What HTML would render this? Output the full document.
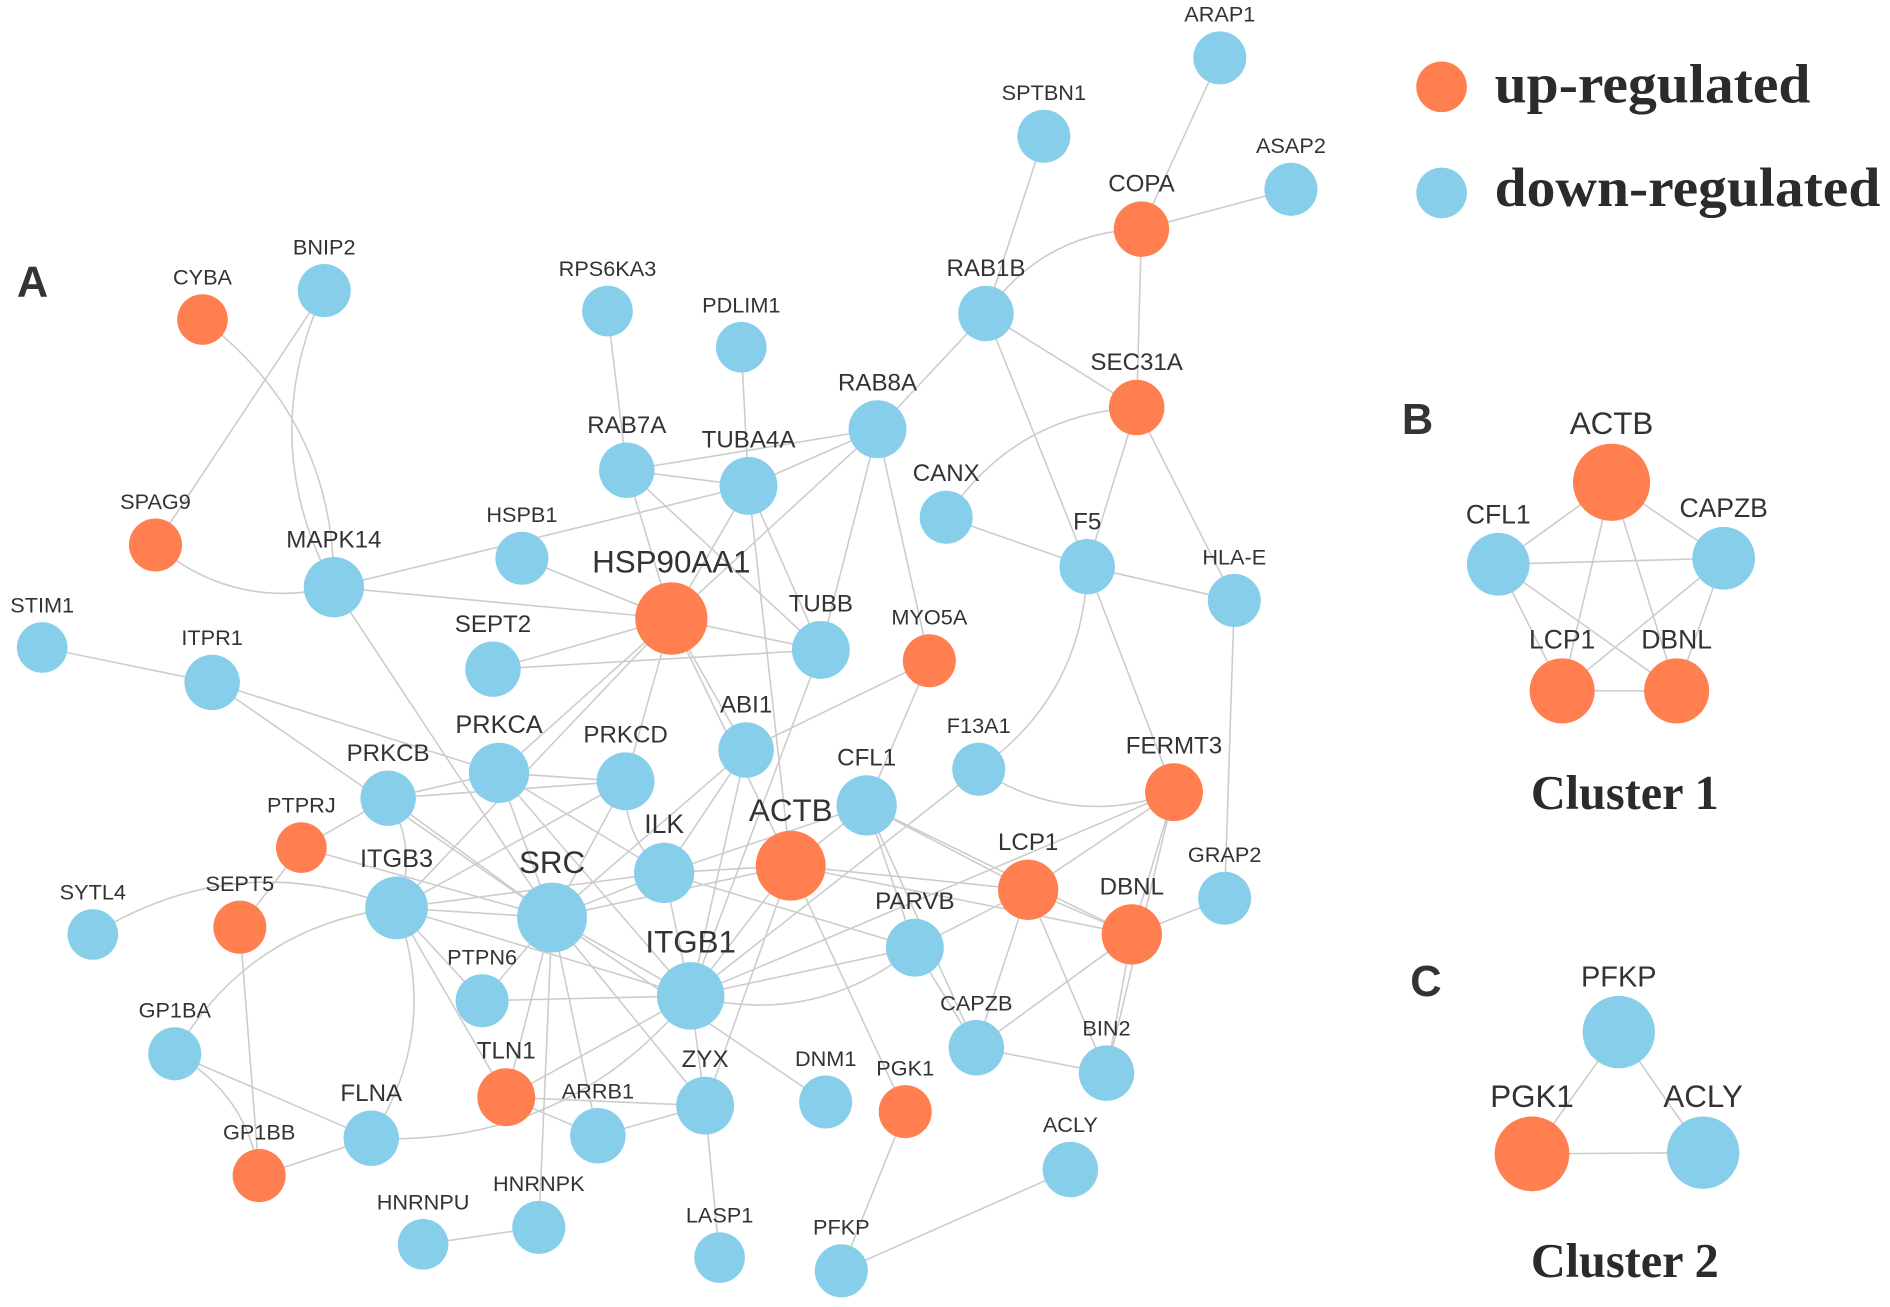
<!DOCTYPE html>
<html><head><meta charset="utf-8"><style>
html,body{margin:0;padding:0;background:#fff;}
svg{display:block;}
text{font-family:"Liberation Sans",sans-serif;fill:#333;}
.ser{font-family:"Liberation Serif",serif;font-weight:bold;fill:#2b2b2b;}
</style></head><body>
<svg id="net" width="1890" height="1307" viewBox="0 0 1568 1084" preserveAspectRatio="none" xmlns="http://www.w3.org/2000/svg">
<g id="edges"></g>
<g id="nodes"></g>
<text x="14" y="246" font-size="36" font-weight="bold" fill="#000">A</text>
<text x="1163" y="360" font-size="36" font-weight="bold" fill="#000">B</text>
<text x="1170" y="826" font-size="36" font-weight="bold" fill="#000">C</text>
<text class="ser" x="1348" y="671" font-size="40" text-anchor="middle">Cluster 1</text>
<text class="ser" x="1348" y="1059" font-size="40" text-anchor="middle">Cluster 2</text>
<circle cx="1196" cy="72" r="21" fill="#FF7F50"/>
<text class="ser" x="1240" y="85" font-size="46" textLength="262" lengthAdjust="spacingAndGlyphs">up-regulated</text>
<circle cx="1196" cy="160" r="21" fill="#87CEEB"/>
<text class="ser" x="1240" y="171" font-size="46" textLength="320" lengthAdjust="spacingAndGlyphs">down-regulated</text>
</svg>
<script>
const nodeNames=["ARAP1","SPTBN1","ASAP2","COPA","RAB1B","SEC31A","CYBA","BNIP2","RPS6KA3","PDLIM1","RAB8A","RAB7A","TUBA4A","CANX","F5","HLA-E","SPAG9","MAPK14","HSPB1","HSP90AA1","STIM1","ITPR1","SEPT2","TUBB","MYO5A","ABI1","PRKCA","PRKCD","PRKCB","F13A1","CFL1","FERMT3","PTPRJ","ILK","ACTB","ITGB3","SRC","LCP1","GRAP2","SYTL4","SEPT5","DBNL","PARVB","PTPN6","ITGB1","CAPZB","BIN2","GP1BA","TLN1","ZYX","DNM1","PGK1","ARRB1","FLNA","ACLY","GP1BB","HNRNPU","HNRNPK","LASP1","PFKP",
"B:ACTB","B:CFL1","B:CAPZB","B:LCP1","B:DBNL","C:PFKP","C:PGK1","C:ACLY"];
const nodeX=[1012,866,1071,947,818,943,168,269,504,615,728,520,621,785,902,1024,129,277,433,557,35,176,409,681,771,619,414,519,322,812,719,974,250,551,656,329,458,853,1016,77,199,939,759,400,573,810,918,145,420,585,685,751,496,308,888,215,351,447,597,698,
1337,1243,1430,1296,1391,1343,1271,1413];
const nodeY=[48,113,157,190,260,338,265,241,258,288,356,390,403,429,470,498,452,487,463,513,537,566,555,539,548,622,641,648,662,638,668,657,703,724,718,753,761,738,745,775,769,775,786,830,826,869,890,874,910,917,914,922,942,944,970,975,1032,1018,1043,1054,
400,468,463,573,573,856,957,956];
const nodeSize=[22,22,22,23,23,23,21,22,21,21,24,23,24,22,23,22,22,25,22,30,21,23,23,24,22,23,25,24,23,22,25,24,21,25,29,26,29,25,22,21,22,25,24,22,28,23,23,22,24,24,22,22,23,23,23,22,21,22,21,22,
32,26,26,27,27,30,31,30];
const nodeUp=[0,0,0,1,0,1,1,0,0,0,0,0,0,0,0,0,1,0,0,1,0,0,0,0,1,0,0,0,0,0,0,1,1,0,1,0,0,1,0,0,1,1,0,0,0,0,0,0,1,0,0,1,0,0,0,1,0,0,0,0,
1,0,0,1,1,0,1,0];
const labelSize=[18,18,18,20,20,20,18,18,18,18,20,20,20,20,20,18,18,20,18,26,18,18,20,20,18,20,21,20,20,18,20,20,18,22,26,21,26,20,18,18,18,20,20,18,26,18,18,18,20,20,18,18,18,20,18,18,18,18,18,18,
26,22,22,22,22,24,26,26];
const edgeList=[
["ARAP1","COPA"],["SPTBN1","RAB1B"],["ASAP2","COPA"],["COPA","SEC31A"],["COPA","RAB1B",1],["RAB1B","RAB8A"],["RAB1B","SEC31A"],["RAB1B","F5"],["SEC31A","F5"],["SEC31A","HLA-E"],["SEC31A","CANX",1],["CANX","F5"],["F5","HLA-E"],["F5","FERMT3"],["F5","F13A1",-1],["HLA-E","GRAP2"],
["CYBA","MAPK14",-1],["BNIP2","SPAG9"],["BNIP2","MAPK14",1],["SPAG9","MAPK14",1],["RPS6KA3","RAB7A"],["PDLIM1","TUBA4A"],["RAB8A","RAB7A"],["RAB8A","TUBA4A"],["RAB8A","HSP90AA1"],["RAB8A","TUBB"],["RAB8A","MYO5A"],["RAB7A","TUBA4A"],["RAB7A","TUBB"],["RAB7A","HSP90AA1"],["TUBA4A","HSP90AA1"],["TUBA4A","ACTB"],["TUBA4A","TUBB"],["TUBA4A","MAPK14"],["MAPK14","HSP90AA1"],["MAPK14","SRC"],["HSPB1","HSP90AA1"],
["HSP90AA1","SEPT2"],["HSP90AA1","TUBB"],["HSP90AA1","ABI1"],["HSP90AA1","PRKCA"],["HSP90AA1","PRKCD"],["HSP90AA1","ITGB3"],["HSP90AA1","ACTB"],["SEPT2","TUBB"],["STIM1","ITPR1"],["ITPR1","SRC"],["ITPR1","PRKCA"],["TUBB","ITGB1"],["MYO5A","CFL1"],["MYO5A","ABI1"],["ABI1","ITGB1"],["ABI1","ILK"],["ABI1","SRC"],
["PRKCA","PRKCB"],["PRKCA","PRKCD"],["PRKCA","SRC"],["PRKCA","ILK"],["PRKCA","ITGB1"],["PRKCB","PRKCD"],["PRKCB","SRC"],["PRKCB","PTPRJ"],["PRKCB","ITGB3",-1],["PRKCD","SRC"],["PRKCD","ITGB3"],["PRKCD","ILK",1],["F13A1","FERMT3",1],["F13A1","ITGB1"],
["CFL1","ACTB"],["CFL1","ILK"],["CFL1","LCP1"],["CFL1","CAPZB"],["CFL1","DBNL"],["CFL1","PARVB"],["FERMT3","LCP1"],["FERMT3","DBNL"],["FERMT3","BIN2"],["FERMT3","ITGB1"],["PTPRJ","SEPT5"],["PTPRJ","SRC"],["ILK","SRC"],["ILK","ITGB1"],["ILK","ACTB"],["ILK","PARVB"],["ILK","ITGB3"],
["ACTB","LCP1"],["ACTB","DBNL"],["ACTB","SRC"],["ACTB","ITGB1"],["ACTB","PGK1"],["ACTB","ZYX"],["ITGB3","SRC"],["ITGB3","ITGB1"],["ITGB3","PTPN6"],["ITGB3","TLN1"],["ITGB3","SYTL4",1],["ITGB3","GP1BA",1],["SRC","ITGB1"],["SRC","PTPN6"],["SRC","TLN1"],["SRC","HNRNPK"],["SRC","ARRB1"],["SRC","ZYX"],["SRC","DNM1"],
["LCP1","DBNL"],["LCP1","CAPZB"],["LCP1","BIN2"],["LCP1","PARVB"],["GRAP2","DBNL"],["DBNL","CAPZB"],["DBNL","BIN2"],["PARVB","ITGB1"],["PTPN6","ITGB1"],["ITGB1","TLN1"],["ITGB1","ZYX"],["CAPZB","BIN2"],["CAPZB","PARVB"],["GP1BA","FLNA"],["GP1BA","GP1BB",-1],["TLN1","ZYX"],["TLN1","ARRB1"],["ZYX","LASP1"],["ZYX","ARRB1"],["PGK1","PFKP"],["ACLY","PFKP"],["SEPT5","GP1BB"],["GP1BB","FLNA"],["FLNA","ITGB1",1],["HNRNPU","HNRNPK"],["FLNA","ITGB3",1],["ITGB1","PARVB",1],
["B:ACTB","B:CFL1"],["B:ACTB","B:CAPZB"],["B:ACTB","B:LCP1"],["B:ACTB","B:DBNL"],["B:CFL1","B:CAPZB"],["B:CFL1","B:LCP1"],["B:CFL1","B:DBNL"],["B:CAPZB","B:LCP1"],["B:CAPZB","B:DBNL"],["B:LCP1","B:DBNL"],
["C:PFKP","C:PGK1"],["C:PFKP","C:ACLY"],["C:PGK1","C:ACLY"]];
const NS="http://www.w3.org/2000/svg";
const eg=document.getElementById('edges'), ng=document.getElementById('nodes');
const idx=n=>nodeNames.indexOf(n);
edgeList.forEach(e=>{
  const a=idx(e[0]), b=idx(e[1]);
  const x1=nodeX[a],y1=nodeY[a],x2=nodeX[b],y2=nodeY[b];
  const p=document.createElementNS(NS,'path');
  let d;
  if(e[2]){const mx=(x1+x2)/2,my=(y1+y2)/2,dx=x2-x1,dy=y2-y1;const k=0.25*e[2];d=`M${x1},${y1} Q${mx-dy*k},${my+dx*k} ${x2},${y2}`;}
  else d=`M${x1},${y1} L${x2},${y2}`;
  p.setAttribute('d',d);p.setAttribute('fill','none');p.setAttribute('stroke','#cccccc');p.setAttribute('stroke-width','1.3');
  
  
  eg.appendChild(p);
});
nodeNames.forEach((n,i)=>{
  const c=document.createElementNS(NS,'circle');
  c.setAttribute('cx',nodeX[i]);c.setAttribute('cy',nodeY[i]);c.setAttribute('r',nodeSize[i]);
  c.setAttribute('fill',nodeUp[i]?'#FF7F50':'#87CEEB');
  
  
  ng.appendChild(c);
  const t=document.createElementNS(NS,'text');
  t.setAttribute('x',nodeX[i]);t.setAttribute('y',nodeY[i]-nodeSize[i]-8);
  t.setAttribute('text-anchor','middle');t.setAttribute('font-size',labelSize[i]);
  t.textContent=n.replace(/^[BC]:/,'');
  
  
  ng.appendChild(t);
});
</script>
</body></html>
